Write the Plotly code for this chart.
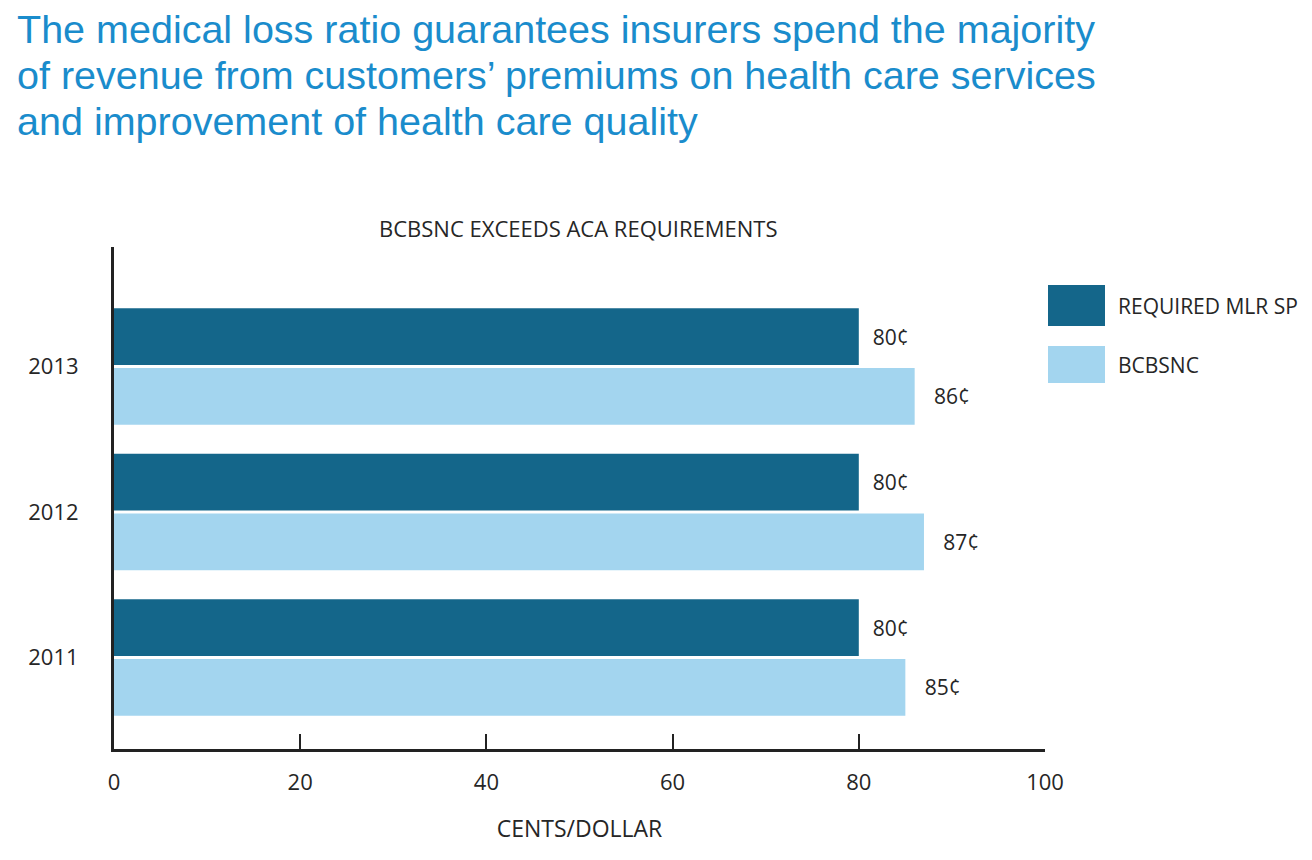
import plotly.graph_objects as go

years = ["2011", "2012", "2013"]
required_mlr = [80, 80, 80]
bcbsnc = [85, 87, 86]
series_names = ["REQUIRED MLR SP", "BCBSNC"]
x_ticks = [0, 20, 40, 60, 80, 100]
headline_lines = [
    "The medical loss ratio guarantees insurers spend the majority",
    "of revenue from customers’ premiums on health care services",
    "and improvement of health care quality",
]

dark = "#14668a"
light = "#a3d5ef"
txt = "#262626"
chart_font = "Open Sans"

# plot-area pixel frame
L, R, T, B = 114, 1045, 247, 749
def px(x):
    return (x - L) / (R - L)
def py(y):
    return (B - y) / (B - T)

fig = go.Figure()
# BCBSNC first so it sits below the required bar in each group
fig.add_trace(go.Bar(
    y=years, x=bcbsnc, orientation="h", name=series_names[1],
    marker=dict(color=light, line=dict(width=0)),
    texttemplate="\u00a0\u00a0\u00a0%{x}¢", textposition="outside",
    textfont=dict(family=chart_font, size=21, color=txt),
    cliponaxis=False, showlegend=False,
))
fig.add_trace(go.Bar(
    y=years, x=required_mlr, orientation="h", name=series_names[0],
    marker=dict(color=dark, line=dict(width=0)),
    texttemplate="\u00a0\u00a0%{x}¢", textposition="outside",
    textfont=dict(family=chart_font, size=21, color=txt),
    cliponaxis=False, showlegend=False,
))

# legend drawn as swatches + labels
legend_items = [(series_names[0], dark, 285, 326), (series_names[1], light, 346, 383)]
for name, col, y0, y1 in legend_items:
    fig.add_shape(type="rect", xref="paper", yref="paper",
                  x0=px(1048), x1=px(1105), y0=py(y1), y1=py(y0),
                  fillcolor=col, line=dict(width=0))
    fig.add_annotation(xref="paper", yref="paper",
                       x=px(1116), y=py((y0 + y1) / 2),
                       xanchor="left", yanchor="middle", showarrow=False,
                       text=name, font=dict(family=chart_font, size=21, color=txt))

# headline, one annotation per line for tight line spacing
for i, line in enumerate(headline_lines):
    fig.add_annotation(
        xref="paper", yref="paper", x=px(15), y=py(29 + 46 * i),
        xanchor="left", yanchor="middle", showarrow=False, text=line,
        font=dict(family="Liberation Sans, Arial", size=39.5, color="#1a8ccc"),
    )
# chart subtitle
fig.add_annotation(xref="paper", yref="paper", x=px(578), y=py(228),
                   xanchor="center", yanchor="middle", showarrow=False,
                   text="BCBSNC EXCEEDS ACA REQUIREMENTS",
                   font=dict(family=chart_font, size=22, color=txt))

fig.update_layout(
    width=1312, height=860,
    margin=dict(l=L, r=1312 - R, t=T, b=860 - B),
    paper_bgcolor="white", plot_bgcolor="white",
    barmode="group", bargap=0.18, bargroupgap=0.05,
    showlegend=False,
    xaxis=dict(
        range=[0, 100], tickvals=x_ticks, ticks="inside", ticklen=15, tickwidth=2,
        tickcolor="#222", showline=True, linecolor="#222", linewidth=3,
        showgrid=False, zeroline=False,
        tickfont=dict(family=chart_font, size=22, color=txt),
        ticklabelstandoff=12,
        title=dict(text="CENTS/DOLLAR", font=dict(family=chart_font, size=23, color=txt), standoff=26),
    ),
    yaxis=dict(
        type="category", range=[-0.629, 2.821], showline=True, linecolor="#222",
        linewidth=3, ticks="", showgrid=False, zeroline=False,
        tickfont=dict(family=chart_font, size=22, color=txt),
        ticklabelstandoff=28,
    ),
)

fig.write_html("out.html", config={"displayModeBar": False},
               post_script="document.body.style.margin='0';")
